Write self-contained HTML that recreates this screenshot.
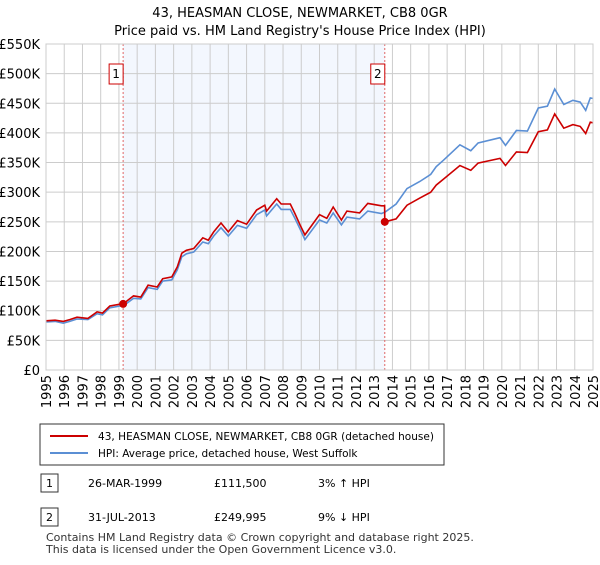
<!DOCTYPE html>
<html><head><meta charset="utf-8"><style>
body{margin:0;background:#fff;font-family:"Liberation Sans","DejaVu Sans",sans-serif;}
svg text{font-family:"DejaVu Sans","Liberation Sans",sans-serif;}
</style></head><body>
<svg id="c" width="600" height="560" xmlns="http://www.w3.org/2000/svg">
<text x="300" y="17" text-anchor="middle" font-size="13">43, HEASMAN CLOSE, NEWMARKET, CB8 0GR</text>
<text x="300" y="35" text-anchor="middle" font-size="13">Price paid vs. HM Land Registry's House Price Index (HPI)</text>
<g id="plot"></g>
<rect x="40" y="424" width="404" height="41" fill="#fff" stroke="#333"/>
<line x1="50" y1="436" x2="88" y2="436" stroke="#cc0000" stroke-width="2"/>
<text x="98" y="440" font-size="10.5" textLength="336">43, HEASMAN CLOSE, NEWMARKET, CB8 0GR (detached house)</text>
<line x1="50" y1="453" x2="88" y2="453" stroke="#5b8fd4" stroke-width="2"/>
<text x="98" y="457" font-size="10.5">HPI: Average price, detached house, West Suffolk</text>
<rect x="41" y="474" width="17" height="18" fill="#fff" stroke="#333"/>
<text x="49.5" y="487" font-size="11" text-anchor="middle">1</text>
<text x="88" y="487" font-size="11">26-MAR-1999</text>
<text x="214" y="487" font-size="11">£111,500</text>
<text x="318" y="487" font-size="11">3% ↑ HPI</text>
<rect x="41" y="508" width="17" height="18" fill="#fff" stroke="#333"/>
<text x="49.5" y="521" font-size="11" text-anchor="middle">2</text>
<text x="88" y="521" font-size="11">31-JUL-2013</text>
<text x="214" y="521" font-size="11">£249,995</text>
<text x="318" y="521" font-size="11">9% ↓ HPI</text>
<text x="46" y="541" font-size="11" fill="#333">Contains HM Land Registry data © Crown copyright and database right 2025.</text>
<text x="46" y="553" font-size="11" fill="#333">This data is licensed under the Open Government Licence v3.0.</text>
</svg>
<script>
const years=[1995,1995.5,1995.95,1996.3,1996.7,1997.3,1997.8,1998.1,1998.5,1999.06,1999.23,1999.8,2000.2,2000.6,2001.1,2001.4,2001.9,2002.2,2002.45,2002.7,2003.1,2003.6,2003.9,2004.2,2004.6,2005.0,2005.5,2006.0,2006.55,2007.0,2007.1,2007.65,2007.9,2008.4,2008.65,2008.93,2009.2,2010.0,2010.4,2010.75,2011.2,2011.5,2012.2,2012.65,2013.4,2013.57,2013.58,2014.2,2014.8,2015.5,2016.1,2016.4,2016.8,2017.7,2018.3,2018.7,2019.9,2020.2,2020.8,2021.4,2022.0,2022.5,2022.9,2023.4,2023.9,2024.3,2024.6,2024.85,2025.0];
const hpi=[81,82,79,82,86,85,95,93,105,108,108,121,120,139,136,150,152,169,191,196,199,216,213,226,240,226,244,239,262,270,260,280,271,271,256,238,220,253,248,265,245,258,255,268,264,266,266,280,306,318,330,343,354,380,370,383,392,379,404,403,442,445,474,448,455,452,438,459,458];
const price=[83,84,82,85,89,87,98,96,108,111,111.5,125,123,143,140,154,157,174,197,202,205,223,219,233,248,233,252,246,270,278,268,289,280,280,264,245,228,262,256,275,253,268,265,281,277,277,250,255,278,290,300,312,322,345,337,349,357,345,368,367,402,405,432,408,414,411,399,418,417];
const yTicks=[0,50,100,150,200,250,300,350,400,450,500,550];
const yTickLabels=["£0","£50K","£100K","£150K","£200K","£250K","£300K","£350K","£400K","£450K","£500K","£550K"];
const xTicks=[1995,1996,1997,1998,1999,2000,2001,2002,2003,2004,2005,2006,2007,2008,2009,2010,2011,2012,2013,2014,2015,2016,2017,2018,2019,2020,2021,2022,2023,2024,2025];
const saleYears=[1999.23,2013.58];
const saleValues=[111.5,250];
const saleLabels=["1","2"];
const X0=46,X1=593,Y0=370,Y1=44;
const xs=y=>X0+(y-1995)/30*(X1-X0);
const ys=v=>Y0-v/550*(Y0-Y1);
const NS="http://www.w3.org/2000/svg";
const g=document.getElementById('plot');
function mk(t,a,txt){const e=document.createElementNS(NS,t);for(const k in a)e.setAttribute(k,a[k]);if(txt!==undefined)e.textContent=txt;g.appendChild(e);return e;}
let e=mk('rect',{x:xs(saleYears[0]),y:Y1,width:xs(saleYears[1])-xs(saleYears[0]),height:Y0-Y1,fill:'#eef3fd',opacity:0.7});


yTicks.forEach((v,i)=>{
 let l=mk('line',{x1:X0,x2:X1,y1:ys(v),y2:ys(v),stroke:'#cccccc'});
 
 
 let t=mk('text',{x:40,y:ys(v)+5,'text-anchor':'end','font-size':13},yTickLabels[i]);
 
 
});
xTicks.forEach(y=>{
 let l=mk('line',{x1:xs(y),x2:xs(y),y1:Y1,y2:Y0,stroke:'#cccccc'});
 
 
 let t=mk('text',{x:0,y:0,'font-size':13,'text-anchor':'end',transform:`translate(${xs(y)+5},375) rotate(-90)`},String(y));
 
 
});
saleYears.forEach((y,i)=>{
 let l=mk('line',{x1:xs(y),x2:xs(y),y1:Y1,y2:Y0,stroke:'#e06666','stroke-dasharray':'2,2'});
 
 
 let r=mk('rect',{x:xs(y)-14,y:64,width:14,height:20,fill:'#fff',stroke:'#cc0000'});
 
 
 mk('text',{x:xs(y)-7,y:78,'text-anchor':'middle','font-size':12},saleLabels[i]);
});
const path=arr=>arr.map((v,i)=>(i?'L':'M')+xs(years[i]).toFixed(1)+','+ys(v).toFixed(1)).join('');
e=mk('path',{d:path(hpi),fill:'none',stroke:'#5b8fd4','stroke-width':1.6});


e=mk('path',{d:path(price),fill:'none',stroke:'#cc0000','stroke-width':1.6});


saleYears.forEach((y,i)=>{
 let c=mk('circle',{cx:xs(y),cy:ys(saleValues[i]),r:4,fill:'#cc0000'});
 
 
});
e=mk('rect',{x:X0,y:Y1,width:X1-X0,height:Y0-Y1,fill:'none',stroke:'#cccccc'});


</script>
</body></html>
